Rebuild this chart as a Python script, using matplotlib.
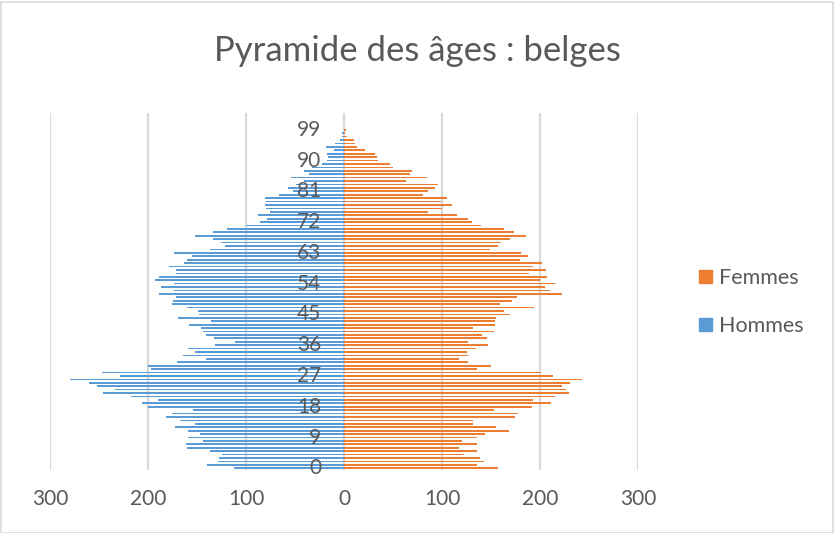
import matplotlib
matplotlib.use("Agg")
import matplotlib.pyplot as plt
from matplotlib.patches import Patch, Rectangle
import numpy as np

# ---------------------------------------------------------------------------
# Data: population by age (0..99)
# ---------------------------------------------------------------------------
ages = list(range(100))

femmes = [157, 136, 143, 139, 122, 136, 117, 136, 120, 136,
          144, 168, 155, 132, 132, 175, 178, 153, 192, 211,
          193, 215, 230, 227, 222, 231, 243, 213, 201, 136,
          150, 127, 117, 127, 126, 135, 147, 127, 146, 141,
          153, 132, 154, 154, 155, 169, 163, 194, 159, 171,
          177, 222, 210, 205, 215, 200, 207, 189, 206, 193,
          202, 180, 188, 181, 149, 157, 160, 169, 186, 173,
          163, 140, 131, 127, 115, 86, 100, 110, 99, 105,
          81, 86, 93, 96, 63, 85, 67, 69, 50, 47,
          35, 34, 32, 21, 13, 11, 10, 3, 1, 2]

hommes = [112, 140, 129, 128, 124, 137, 160, 161, 144, 159,
          147, 159, 172, 152, 167, 182, 175, 154, 200, 206,
          190, 217, 246, 234, 252, 260, 280, 229, 247, 197,
          200, 170, 141, 164, 152, 159, 132, 111, 133, 141,
          144, 146, 158, 136, 169, 148, 149, 160, 175, 174,
          171, 189, 173, 187, 173, 193, 189, 171, 171, 179,
          163, 160, 155, 173, 137, 121, 125, 134, 152, 134,
          119, 100, 86, 79, 88, 75, 80, 81, 80, 81,
          66, 52, 57, 49, 41, 54, 36, 41, 33, 22,
          17, 16, 17, 10, 18, 9, 4, 2, 2, 0]

age_ticks = list(range(0, 100, 9))
x_ticks = [-300, -200, -100, 0, 100, 200, 300]

title = "Pyramide des âges : belges"
orange = "#ED7D31"
blue = "#5B9BD5"
text_col = "#595959"
grid_col = "#D9D9D9"

plt.rcParams["font.family"] = ["Lato", "DejaVu Sans"]

fig = plt.figure(figsize=(8.34, 5.33), dpi=100)
ax = fig.add_axes([50 / 834, 63 / 533, 588 / 834, 357 / 533])

ax.barh(ages, femmes, height=0.5, color=orange, zorder=2)
ax.barh(ages, [-v for v in hommes], height=0.5, color=blue, zorder=2)

ax.set_xlim(-300, 300)
ax.set_ylim(-0.5, 103.9)
ax.set_xticks(x_ticks)
ax.set_xticklabels([str(abs(v)) for v in x_ticks])
ax.grid(axis="x", color=grid_col, lw=1.6, zorder=0)
ax.set_axisbelow(True)
for s in ax.spines.values():
    s.set_visible(False)
ax.tick_params(axis="x", length=0, pad=14, labelsize=15, labelcolor=text_col)

# age labels sit just left of the zero line, over the bars
ax.set_yticks([])
for a in age_ticks:
    ax.text(-23, a, str(a), ha="right", va="center", fontsize=15,
            color=text_col, zorder=5)

fig.text(0.5, 1 - 51 / 533, title, ha="center", va="center",
         fontsize=25, color=text_col)

handles = [Patch(color=orange, label="Femmes"), Patch(color=blue, label="Hommes")]
fig.legend(handles=handles, loc="center left", bbox_to_anchor=(699 / 834, 1 - 302 / 533),
           frameon=False, fontsize=15.5, labelcolor=text_col, handlelength=0.6,
           handleheight=0.6, handletextpad=0.35, labelspacing=1.3,
           borderpad=0, borderaxespad=0)

fig.add_artist(Rectangle((0.5 / 834, 0.5 / 533), 832 / 834, 531 / 533,
                         transform=fig.transFigure, fill=False,
                         edgecolor=grid_col, lw=1.2))

fig.savefig("out.png", dpi=100)
